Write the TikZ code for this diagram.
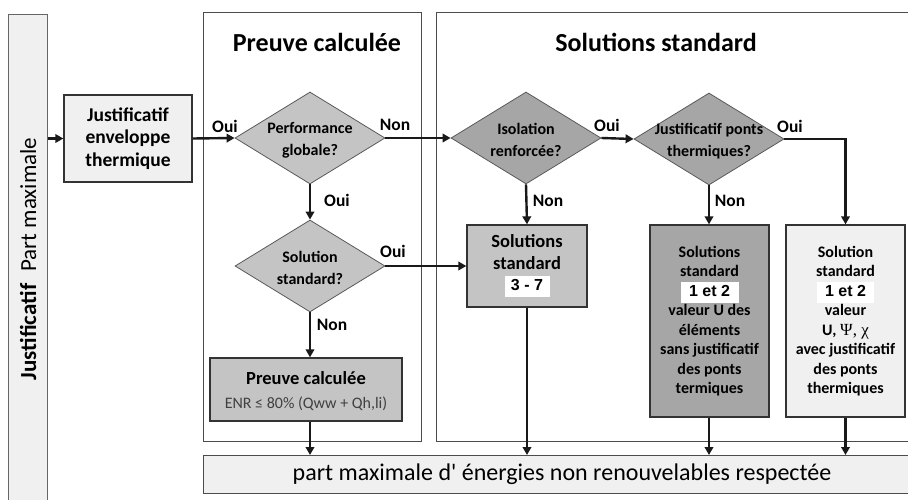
\documentclass[tikz,border=0pt]{standalone}
\usepackage{fontspec}
\setmainfont{Carlito}
\newfontfamily\plainf{Carlito}
\newfontfamily\arialf{Liberation Sans}
\newfontfamily\timesf{Liberation Serif}
\usetikzlibrary{shapes.geometric,arrows.meta}
\newcommand{\hl}[2]{{\setlength\fboxsep{2.5pt}\colorbox{white}{\makebox[#1]{\arialf\bfseries\fontsize{16}{16}\selectfont\rule[-4pt]{0pt}{16pt}#2}}}}
\begin{document}
\begin{tikzpicture}[x=1pt,y=-1pt,
  frame/.style={draw=black!70, line width=1.2pt, anchor=north west, inner sep=0},
  box/.style={draw=black!80, line width=1.3pt, inner sep=0},
  lightfill/.style={fill=black!6},
  midfill/.style={fill=black!23},
  darkfill/.style={fill=black!35},
  dia/.style={diamond, draw=black!65, line width=0.8pt, inner sep=0, minimum width=150pt, minimum height=92pt},
  arr/.style={draw=black!90, line width=2.4pt, -{Triangle[length=8pt,width=8.5pt]}},
  lbl/.style={font=\fontsize{17.5}{20}\selectfont\bfseries, inner sep=0},
  txt/.style={align=center, inner sep=0},
]
\useasboundingbox (0,0) rectangle (908,500);

% left bar
\node[box, lightfill, anchor=north west, minimum width=39pt, minimum height=500pt, draw=black!60] (bar) at (8,14) {};
\node[rotate=90, inner sep=0, font=\fontsize{23}{26}\selectfont] (bartxt) at (28,259) {\bfseries Justificatif\hspace{12pt}\mdseries Part maximale};

% frames
\node[frame, minimum width=218pt, minimum height=429pt] (fpc) at (203,12) {};
\node[frame, minimum width=484pt, minimum height=429pt] (fss) at (436,12) {};
\node[inner sep=0, font=\fontsize{26}{30}\selectfont\bfseries] (t1) at (317,42) {Preuve calculée};
\node[inner sep=0, font=\fontsize{26}{30}\selectfont\bfseries] (t2) at (656,42) {Solutions standard};

% bottom bar
\node[box, lightfill, draw=black!70, anchor=north west, minimum width=718pt, minimum height=38pt] (bb) at (203,455) {};
\node[inner sep=0, font=\plainf\fontsize{24}{28}\selectfont] (bbt) at (562,474) {part maximale d' énergies non renouvelables respectée};

% boxes
\node[box, lightfill, minimum width=128pt, minimum height=87pt, txt, font=\fontsize{19.5}{22.5}\selectfont\bfseries] (jb) at (128,138.5) {Justificatif\\enveloppe\\thermique};

\node[dia, midfill] (d1) at (310,138) {};
\node[txt, font=\fontsize{16}{22}\selectfont\bfseries] (d1t) at (310,140) {Performance\\globale?};
\node[dia, darkfill] (d2) at (526,138) {};
\node[txt, font=\fontsize{16}{22}\selectfont\bfseries] (d2t) at (526,140) {Isolation\\renforcée?};
\node[dia, darkfill] (d3) at (709,139) {};
\node[txt, font=\fontsize{16}{22}\selectfont\bfseries] (d3t) at (709,141) {Justificatif ponts\\thermiques?};
\node[dia, midfill] (d4) at (310,266) {};
\node[txt, font=\fontsize{16}{22}\selectfont\bfseries] (d4t) at (310,268) {Solution\\standard?};

\node[box, midfill, minimum width=120pt, minimum height=82pt] (b37) at (527,266) {};
\node[txt, font=\fontsize{18.5}{21.5}\selectfont\bfseries] (b37t) at (527,266) {Solutions\\standard\\\hl{40pt}{3 - 7}};

\node[box, darkfill, minimum width=119pt, minimum height=192pt] (bd) at (709.5,321) {};
\node[txt, font=\fontsize{16}{19.5}\selectfont\bfseries] (bdt) at (709.5,321) {Solutions\\standard\\\hl{53pt}{1 et 2}\\valeur U des\\éléments\\sans justificatif\\des ponts\\termiques};

\node[box, lightfill, minimum width=119pt, minimum height=192pt] (br) at (845.5,321) {};
\node[txt, font=\fontsize{16}{19.5}\selectfont\bfseries] (brt) at (845.5,321) {Solution\\standard\\\hl{52pt}{1 et 2}\\valeur\\U, {\timesf\mdseries\fontsize{17}{19}\selectfont Ψ, χ}\\avec justificatif\\des ponts\\thermiques};

\node[box, midfill, minimum width=192pt, minimum height=63pt] (pb) at (306,389.5) {};
\node[txt, font=\fontsize{16}{24}\selectfont] (pbt) at (306,391) {{\fontsize{18.5}{24}\selectfont\bfseries Preuve calculée}\\{\color{black!75}ENR ≤ 80\% (Qww + Qh,li)}};

% connectors
\draw[arr] (bar.east |- jb.west) -- (jb.west);
\draw[arr] (jb.east) -- (d1.west);
\draw[arr] (d1.east) -- (d2.west);
\draw[arr] (d2.east) -- (d3.west);
\draw[arr] (d3.east) -| (br.north);
\draw[arr] (d1.south) -- (d4.north);
\draw[arr] (d2.south) -- (b37.north);
\draw[arr] (d3.south) -- (d3.south |- bd.north);
\draw[arr] (d4.east) -- (b37.west);
\draw[arr] (d4.south) -- (d4.south |- pb.north);
\draw[arr] (d4.south |- pb.south) -- (d4.south |- bb.north);
\draw[arr] (b37.south) -- (b37.south |- bb.north);
\draw[arr] (d3.south |- bd.south) -- (d3.south |- bb.north);
\draw[arr] (br.south) -- (br.south |- bb.north);

% labels
\node[lbl] (l1) at (225,126) {Oui};
\node[lbl] (l2) at (395,125) {Non};
\node[lbl] (l3) at (607,125) {Oui};
\node[lbl] (l4) at (790,126) {Oui};
\node[lbl] (l5) at (337,200) {Oui};
\node[lbl] (l6) at (548,201) {Non};
\node[lbl] (l7) at (730,201) {Non};
\node[lbl] (l8) at (393,251) {Oui};
\node[lbl] (l9) at (332,325) {Non};
\end{tikzpicture}
\end{document}
